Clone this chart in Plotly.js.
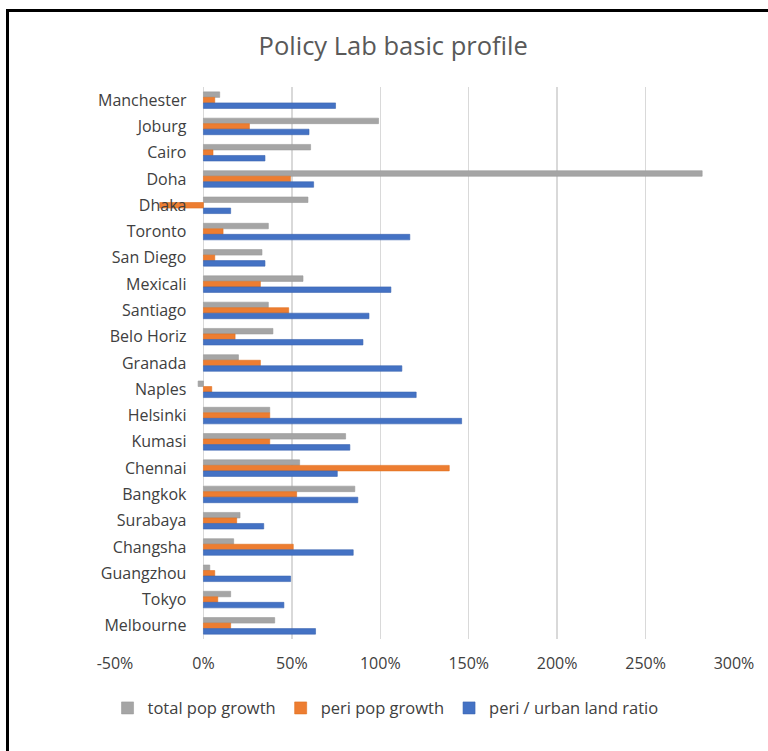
<!DOCTYPE html>
<html>
<head>
<meta charset="utf-8">
<script src="https://cdn.plot.ly/plotly-3.0.1.min.js"></script>
<style>
  html, body { margin: 0; padding: 0; background: #fff; }
  #wrap { position: relative; width: 768px; height: 751px; overflow: hidden; }
  #chart { width: 768px; height: 751px; }
  #frame { position: absolute; left: 6px; top: 9px; width: 900px; height: 900px;
           border-top: 3px solid #000; border-left: 3px solid #000; pointer-events: none; }
</style>
</head>
<body>
<div id="wrap">
  <div id="chart"></div>
  <div id="frame"></div>
</div>
<script>
const cities = ["Manchester","Joburg","Cairo","Doha","Dhaka","Toronto","San Diego","Mexicali","Santiago","Belo Horiz","Granada","Naples","Helsinki","Kumasi","Chennai","Bangkok","Surabaya","Changsha","Guangzhou","Tokyo","Melbourne"];
const totalPopGrowth = [0.092,0.99,0.606,2.82,0.591,0.367,0.331,0.563,0.367,0.393,0.198,-0.03,0.375,0.804,0.544,0.856,0.207,0.171,0.036,0.154,0.403];
const periPopGrowth  = [0.064,0.26,0.054,0.492,-0.247,0.111,0.064,0.322,0.482,0.179,0.322,0.047,0.375,0.375,1.39,0.527,0.188,0.508,0.064,0.081,0.154];
const periUrbanLandRatio = [0.747,0.597,0.348,0.623,0.154,1.167,0.348,1.06,0.936,0.902,1.122,1.203,1.46,0.828,0.757,0.873,0.341,0.847,0.493,0.455,0.634];
const xTickVals = [-0.5,0,0.5,1,1.5,2,2.5,3];
const xTickLabels = ["-50%","0%","50%","100%","150%","200%","250%","300%"];
const seriesNames = ["total pop growth","peri pop growth","peri / urban land ratio"];
const seriesColors = ["#a5a5a5","#ed7d31","#4472c4"];
const seriesLines = ["#9a9a9a","#e0701f","#3a64b0"];

const font = "'Open Sans', 'Liberation Sans', sans-serif";
const series = [totalPopGrowth, periPopGrowth, periUrbanLandRatio];
const traces = series.map((vals, i) => ({
  type: "bar",
  orientation: "h",
  name: seriesNames[i],
  y: cities,
  x: vals,
  marker: { color: seriesColors[i], line: { color: seriesLines[i], width: 0.6 } },
  hoverinfo: "x+y+name"
}));

const layout = {
  width: 768, height: 751,
  paper_bgcolor: "#ffffff", plot_bgcolor: "#ffffff",
  margin: { l: 115, r: 34, t: 87, b: 112, pad: 0 },
  barmode: "group", bargap: 0.37, bargroupgap: 0,
  title: { text: "Policy Lab basic profile", font: { family: font, size: 25.5, color: "#595959" },
           xref: "container", x: 0.512, xanchor: "center", yref: "container", y: 0.939, yanchor: "middle" },
  xaxis: {
    range: [-0.5, 3], tickvals: xTickVals, ticktext: xTickLabels,
    showgrid: true, gridcolor: "#d9d9d9", gridwidth: 1.5,
    zeroline: false, showline: false, ticks: "", ticklabelstandoff: 13,
    tickfont: { family: font, size: 16, color: "#404040" }, fixedrange: true
  },
  yaxis: {
    type: "category", autorange: false, range: [20.5, -0.5],
    anchor: "free", position: 0.5 / 3.5, side: "left",
    showgrid: false, zeroline: false, showline: false, ticks: "",
    ticklabelstandoff: 17,
    tickfont: { family: font, size: 16, color: "#404040" }, fixedrange: true
  },
  legend: {
    orientation: "h", xref: "container", yref: "container",
    x: 0.502, xanchor: "center", y: 0.057, yanchor: "middle",
    font: { family: font, size: 16.5, color: "#404040" },
    traceorder: "normal", itemwidth: 30
  },
  showlegend: true
};

Plotly.newPlot("chart", traces, layout, { displayModeBar: false, staticPlot: true });
</script>
</body>
</html>
